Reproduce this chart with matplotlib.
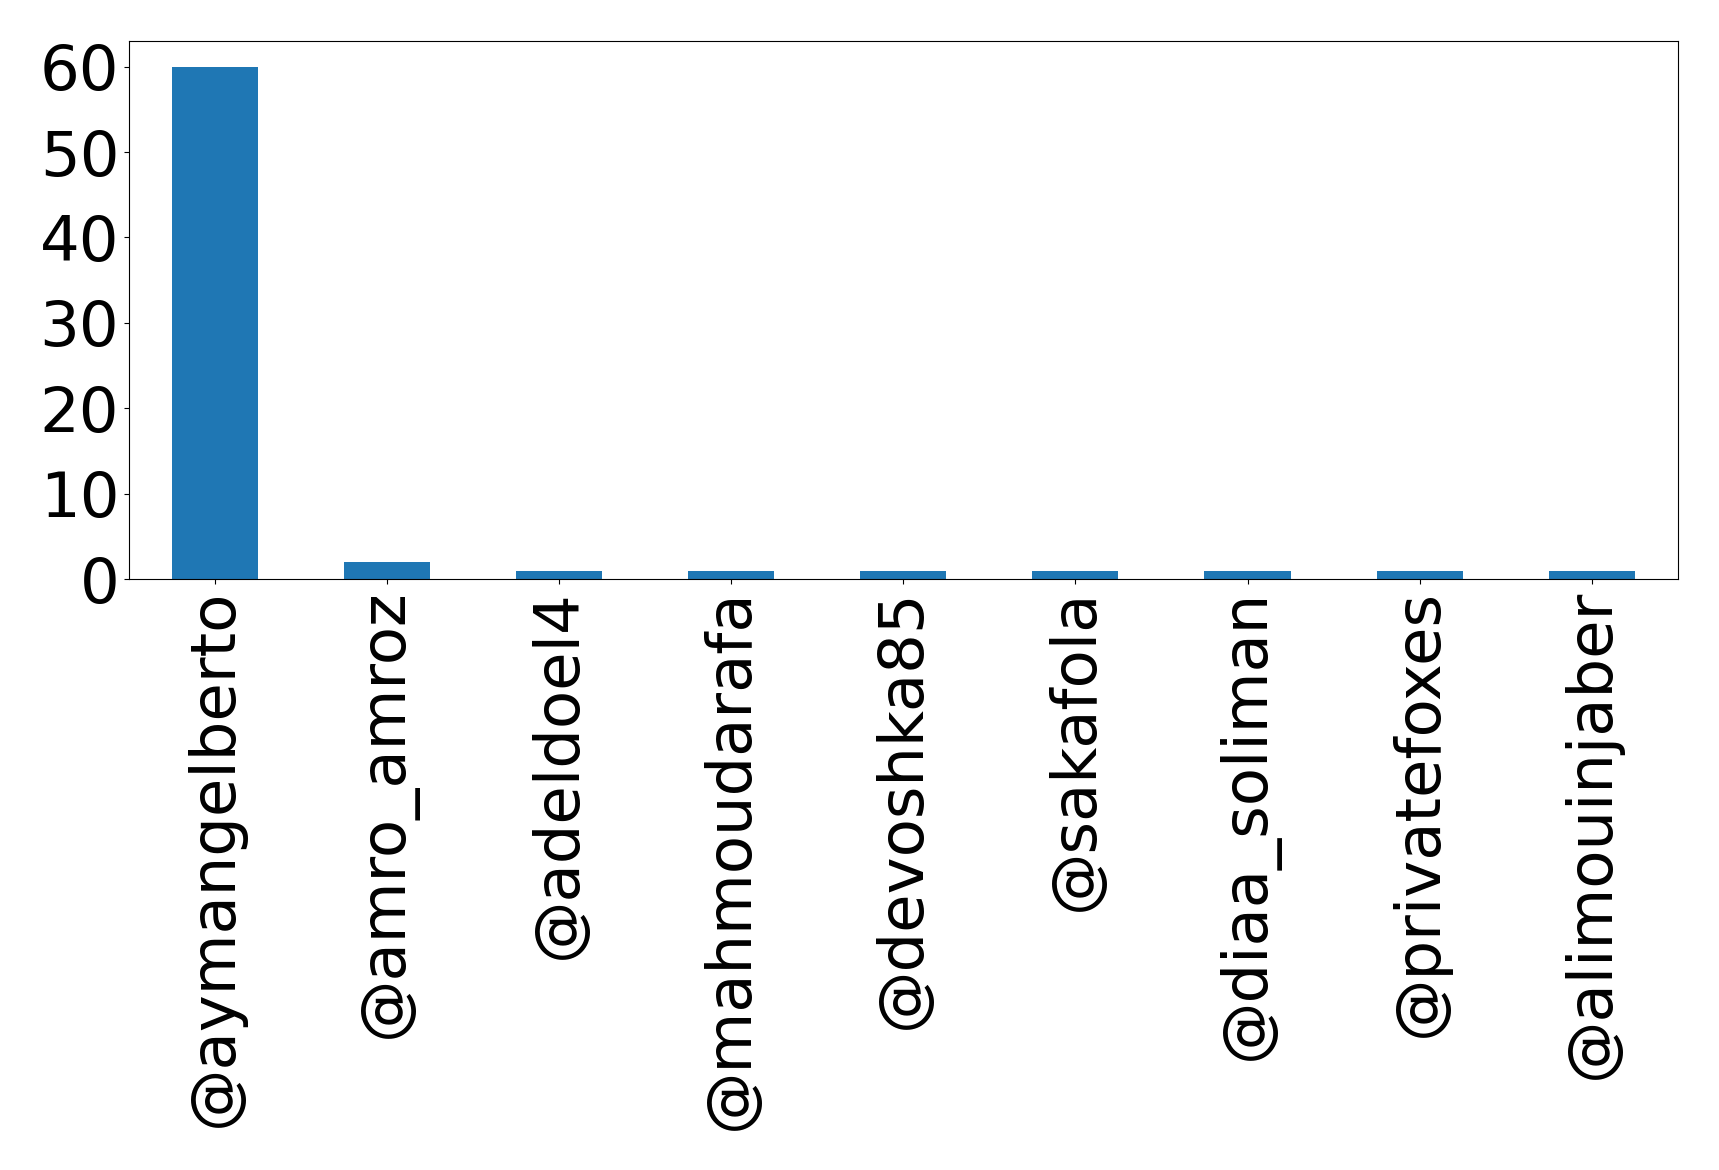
import matplotlib
matplotlib.use("Agg")
import matplotlib.pyplot as plt
import numpy as np

# data
users = ['@aymangelberto', '@amro_amroz', '@adeldoel4', '@mahmoudarafa',
         '@devoshka85', '@sakafola', '@diaa_soliman', '@privatefoxes',
         '@alimouinjaber']
counts = [60, 2, 1, 1, 1, 1, 1, 1, 1]

fig = plt.figure(figsize=(17.19, 11.7), dpi=100)
ax = fig.add_axes([0.075, 0.505, 0.901, 0.46])

x = np.arange(len(users))
ax.bar(x, counts, width=0.5, color='#1f77b4')
ax.set_xlim(-0.5, len(users) - 0.5)
ax.set_ylim(0, max(counts) * 1.05)
ax.set_yticks(np.arange(0, 61, 10))
ax.set_xticks(x)
ax.set_xticklabels(users, rotation=90)
ax.tick_params(labelsize=45)

fig.savefig('out.png', dpi=100)
